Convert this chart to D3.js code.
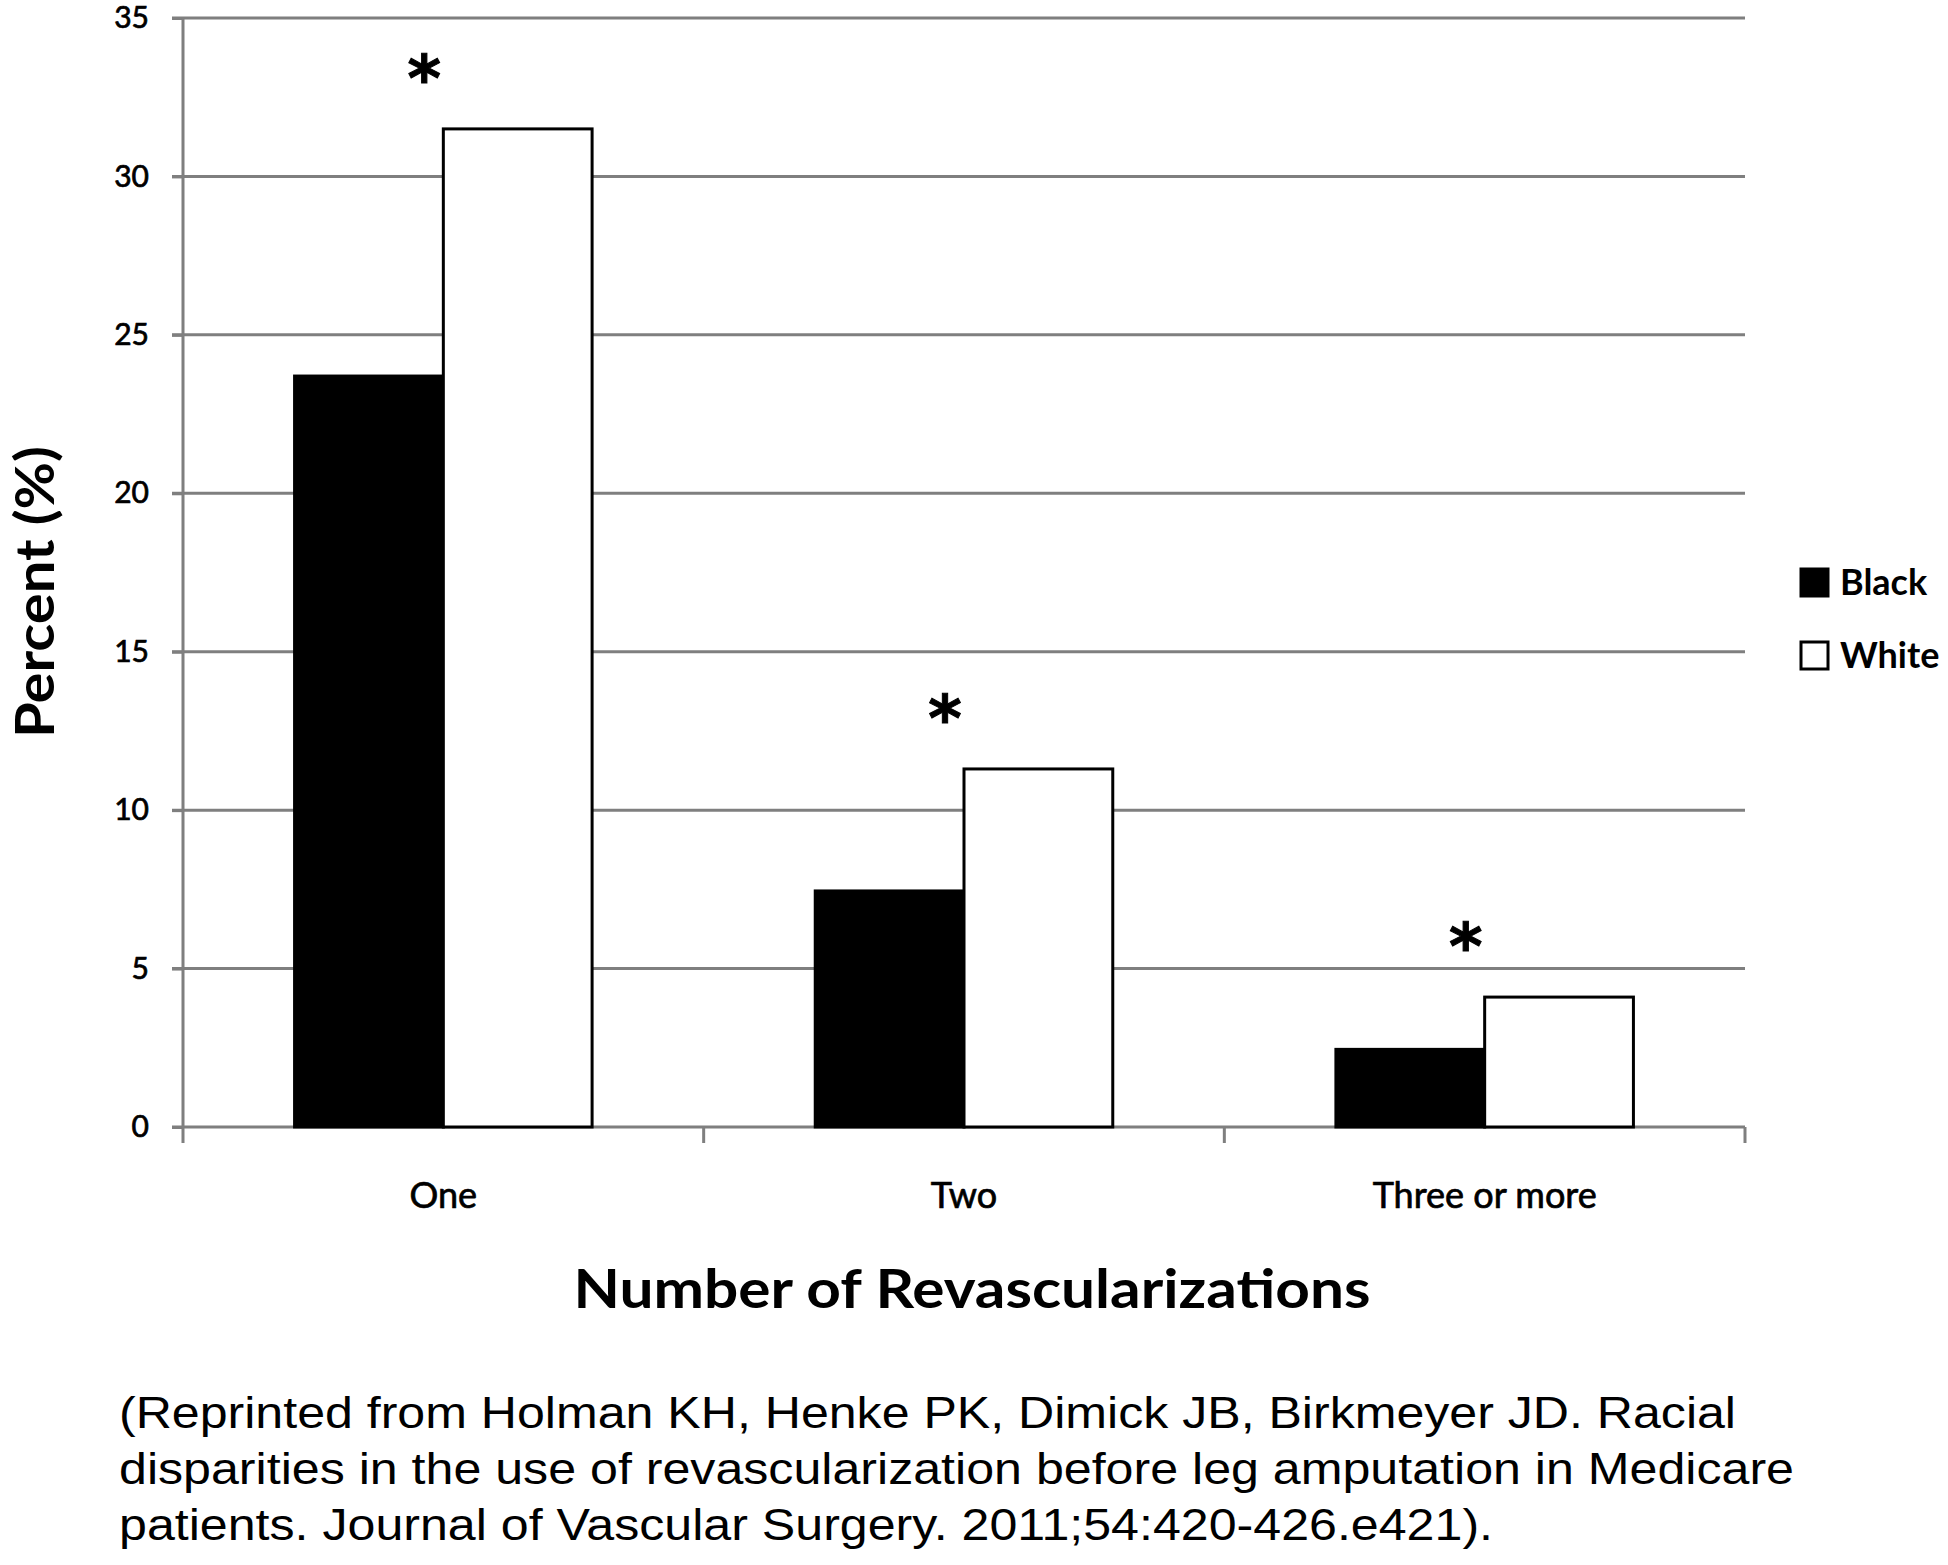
<!DOCTYPE html>
<html>
<head>
<meta charset="utf-8">
<script src="https://d3js.org/d3.v7.min.js"></script>
<style>
  body { margin: 0; background: #fff; }
  .tick text { font: 30px Lato, sans-serif; fill: #000; stroke: #000; stroke-width: 0.7px; }
  .xlab .tick text { font-size: 36px; }
  .title { font: bold 53px Lato, sans-serif; fill: #000; }
  .legend { font: bold 36px Lato, sans-serif; fill: #000; }
  .caption { font: 45px "Liberation Sans Narrow", "Liberation Sans", Arial, sans-serif; fill: #000; }
  .star { font: bold 64px "DejaVu Sans", sans-serif; fill: #000; }
</style>
</head>
<body>
<svg width="1948" height="1565" id="chart"></svg>
<script>
  // data
  var categories = ["One", "Two", "Three or more"]
  var blackVals  = [23.7, 7.45, 2.45]
  var whiteVals  = [31.5, 11.3, 4.1]
  var seriesNames = ["Black", "White"]
  var seriesFill  = ["#000", "#fff"]
  var yTicks = [0, 5, 10, 15, 20, 25, 30, 35]
  var starred = [true, true, true]
  var captionLines = [
    "(Reprinted from Holman KH, Henke PK, Dimick JB, Birkmeyer JD. Racial",
    "disparities in the use of revascularization before leg amputation in Medicare",
    "patients. Journal of Vascular Surgery. 2011;54:420-426.e421)."
  ]

  var svg = d3.select('#chart')
  svg.append('rect').attr('width', 1948).attr('height', 1565).attr('fill', '#fff')

  // plot box (note: "top" is taken by window.top)
  var plotLeft = 183, plotRight = 1745, plotTop = 18, plotBottom = 1127
  var grey = '#7f7f7f'

  var x = d3.scaleBand().domain(categories).range([plotLeft, plotRight])
  var xs = d3.scaleBand().domain(seriesNames).range([0, x.bandwidth()]).paddingOuter(0.75)
  var y = d3.scaleLinear().domain([0, 35]).range([plotBottom, plotTop])

  // gridlines (incl. the zero line)
  svg.append('g').selectAll('line')
    .data(yTicks)
    .enter().append('line')
    .attr('x1', plotLeft - 11).attr('x2', plotRight)
    .attr('y1', function(d) { return y(d) }).attr('y2', function(d) { return y(d) })
    .attr('stroke', grey).attr('stroke-width', 3)

  // y axis labels
  var yAxis = svg.append('g')
    .attr('transform', 'translate(' + plotLeft + ',0)')
    .call(d3.axisLeft(y).tickValues(yTicks).tickSize(11).tickPadding(23))
  yAxis.select('.domain').remove()
  yAxis.selectAll('.tick line').attr('stroke', grey).attr('stroke-width', 3)

  // vertical axis line, runs a bit below zero
  svg.append('line')
    .attr('x1', plotLeft).attr('x2', plotLeft)
    .attr('y1', plotTop).attr('y2', plotBottom + 16)
    .attr('stroke', grey).attr('stroke-width', 3)

  // category divider ticks
  var dividers = categories.map(function(c) { return x(c) + x.bandwidth() })
  svg.append('g').selectAll('line')
    .data(dividers)
    .enter().append('line')
    .attr('x1', function(d) { return d }).attr('x2', function(d) { return d })
    .attr('y1', plotBottom).attr('y2', plotBottom + 16)
    .attr('stroke', grey).attr('stroke-width', 3)

  // category labels
  var xAxis = svg.append('g')
    .attr('class', 'xlab')
    .attr('transform', 'translate(0,' + plotBottom + ')')
    .call(d3.axisBottom(x).tickSize(0).tickPadding(55))
  xAxis.select('.domain').remove()

  // bars
  var rows = categories.map(function(c, i) {
    return { cat: c, vals: [blackVals[i], whiteVals[i]] }
  })
  var groups = svg.append('g').selectAll('g')
    .data(rows)
    .enter().append('g')
    .attr('transform', function(d) { return 'translate(' + x(d.cat) + ',0)' })

  groups.selectAll('rect')
    .data(function(d) { return d.vals.map(function(v, j) { return { s: seriesNames[j], v: v, j: j } }) })
    .enter().append('rect')
    .attr('x', function(d) { return xs(d.s) })
    .attr('width', xs.bandwidth())
    .attr('y', function(d) { return y(d.v) })
    .attr('height', function(d) { return y(0) - y(d.v) })
    .attr('fill', function(d) { return seriesFill[d.j] })
    .attr('stroke', '#000')
    .attr('stroke-width', 3)

  // significance stars above the white bars
  svg.append('g').selectAll('text')
    .data(categories.filter(function(c, i) { return starred[i] }))
    .enter().append('text')
    .attr('class', 'star')
    .attr('text-anchor', 'middle')
    .attr('x', function(c) { return x(c) + x.bandwidth() / 2 - 19 })
    .attr('y', function(c) { return y(whiteVals[categories.indexOf(c)]) - 62 + 34 })
    .attr('stroke', '#000').attr('stroke-width', 1)
    .text('*')

  // legend
  var legend = svg.append('g').selectAll('g')
    .data(seriesNames)
    .enter().append('g')
    .attr('transform', function(d, i) { return 'translate(1801,' + (569 + i * 73) + ')' })
  legend.append('rect')
    .attr('width', 27).attr('height', 27)
    .attr('fill', function(d, i) { return seriesFill[i] })
    .attr('stroke', '#000').attr('stroke-width', 3)
  legend.append('text')
    .attr('class', 'legend')
    .attr('x', 39).attr('y', 26)
    .text(function(d) { return d })

  // axis titles
  svg.append('text')
    .attr('class', 'title')
    .attr('text-anchor', 'middle')
    .attr('x', 972).attr('y', 1308)
    .attr('textLength', 797).attr('lengthAdjust', 'spacingAndGlyphs')
    .text('Number of Revascularizations')

  svg.append('text')
    .attr('class', 'title')
    .attr('text-anchor', 'middle')
    .attr('transform', 'translate(54,592)rotate(-90)')
    .attr('textLength', 292).attr('lengthAdjust', 'spacingAndGlyphs')
    .text('Percent (%)')

  // caption
  var capWidths = [1617, 1675, 1374]
  svg.append('g').selectAll('text')
    .data(captionLines)
    .enter().append('text')
    .attr('class', 'caption')
    .attr('x', 119)
    .attr('y', function(d, i) { return 1428 + i * 56 })
    .attr('textLength', function(d, i) { return capWidths[i] })
    .attr('lengthAdjust', 'spacingAndGlyphs')
    .text(function(d) { return d })
</script>
</body>
</html>
